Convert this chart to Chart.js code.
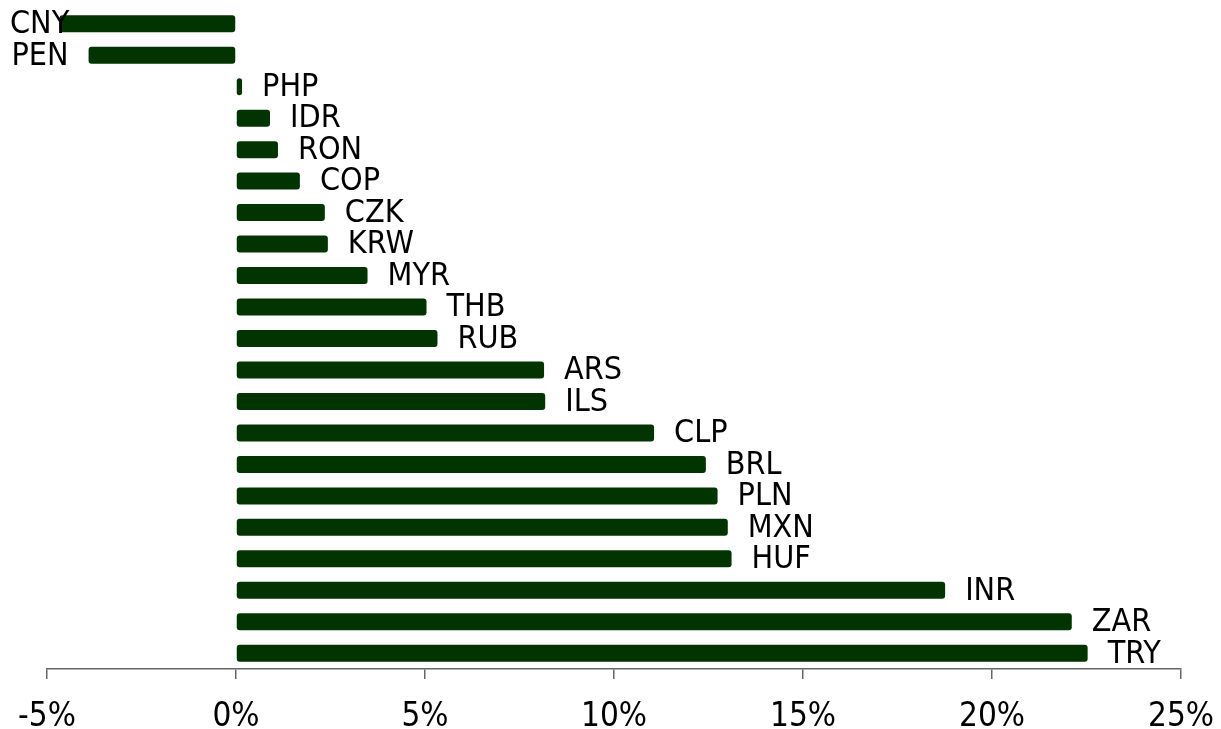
<!DOCTYPE html>
<html>
<head>
<meta charset="utf-8">
<script src="https://cdn.jsdelivr.net/npm/chart.js@4"></script>
<style>
  html, body { margin: 0; padding: 0; background: #fff; }
  #wrap { width: 1221px; height: 729px; }
</style>
</head>
<body>
<div id="wrap"><canvas id="chart"></canvas></div>
<script>
// currencies, top to bottom
const currencies = ["CNY", "PEN", "PHP", "IDR", "RON", "COP", "CZK", "KRW", "MYR", "THB", "RUB",
  "ARS", "ILS", "CLP", "BRL", "PLN", "MXN", "HUF", "INR", "ZAR", "TRY"];
// change, %
const changes = [-4.67, -3.9, 0.16, 0.9, 1.11, 1.69, 2.35, 2.43, 3.48, 5.04, 5.33,
  8.15, 8.18, 11.06, 12.43, 12.74, 13.01, 13.11, 18.76, 22.11, 22.53];
const xTicks = [-5, 0, 5, 10, 15, 20, 25];

const FONT = "'Liberation Sans Narrow', 'DejaVu Sans Condensed', 'Liberation Sans', sans-serif";

// draw the currency code next to the end of each bar
const barLabels = {
  id: "barLabels",
  afterDatasetsDraw(chart) {
    const ctx = chart.ctx;
    const meta = chart.getDatasetMeta(0);
    ctx.save();
    ctx.font = "32px " + FONT;
    ctx.fillStyle = "#000";
    ctx.textBaseline = "middle";
    meta.data.forEach((bar, i) => {
      const v = changes[i];
      const txt = currencies[i];
      let x;
      if (v >= 0) {
        x = bar.x + 20;
      } else {
        x = Math.max(10, bar.x - 20 - ctx.measureText(txt).width);
      }
      ctx.fillText(txt, x, bar.y + 1);
    });
    ctx.restore();
  }
};

new Chart(document.getElementById("chart"), {
  type: "bar",
  data: {
    labels: currencies,
    datasets: [{
      data: changes,
      backgroundColor: "#023402",
      borderWidth: 0,
      borderRadius: 3,
      borderSkipped: false,
      barPercentage: 0.54,
      categoryPercentage: 1.0
    }]
  },
  options: {
    indexAxis: "y",
    responsive: true,
    maintainAspectRatio: false,
    animation: false,
    layout: { padding: { left: 47, right: 40, top: 8, bottom: 0 } },
    plugins: { legend: { display: false }, tooltip: { enabled: false } },
    scales: {
      y: { display: false },
      x: {
        min: -5,
        max: 25,
        afterBuildTicks(axis) {
          axis.ticks = xTicks.map(v => ({ value: v }));
        },
        afterFit(axis) {
          axis.height = 60;
          axis.paddingLeft = 0;
          axis.paddingRight = 0;
        },
        border: { display: true, color: "#666", width: 1.5 },
        grid: { drawOnChartArea: false, drawTicks: true, tickLength: 10, color: "#666", lineWidth: 1.5 },
        ticks: {
          color: "#000",
          font: { family: FONT, size: 33 },
          padding: 19,
          maxRotation: 0,
          callback: v => v + "%"
        }
      }
    }
  },
  plugins: [barLabels]
});
</script>
</body>
</html>
